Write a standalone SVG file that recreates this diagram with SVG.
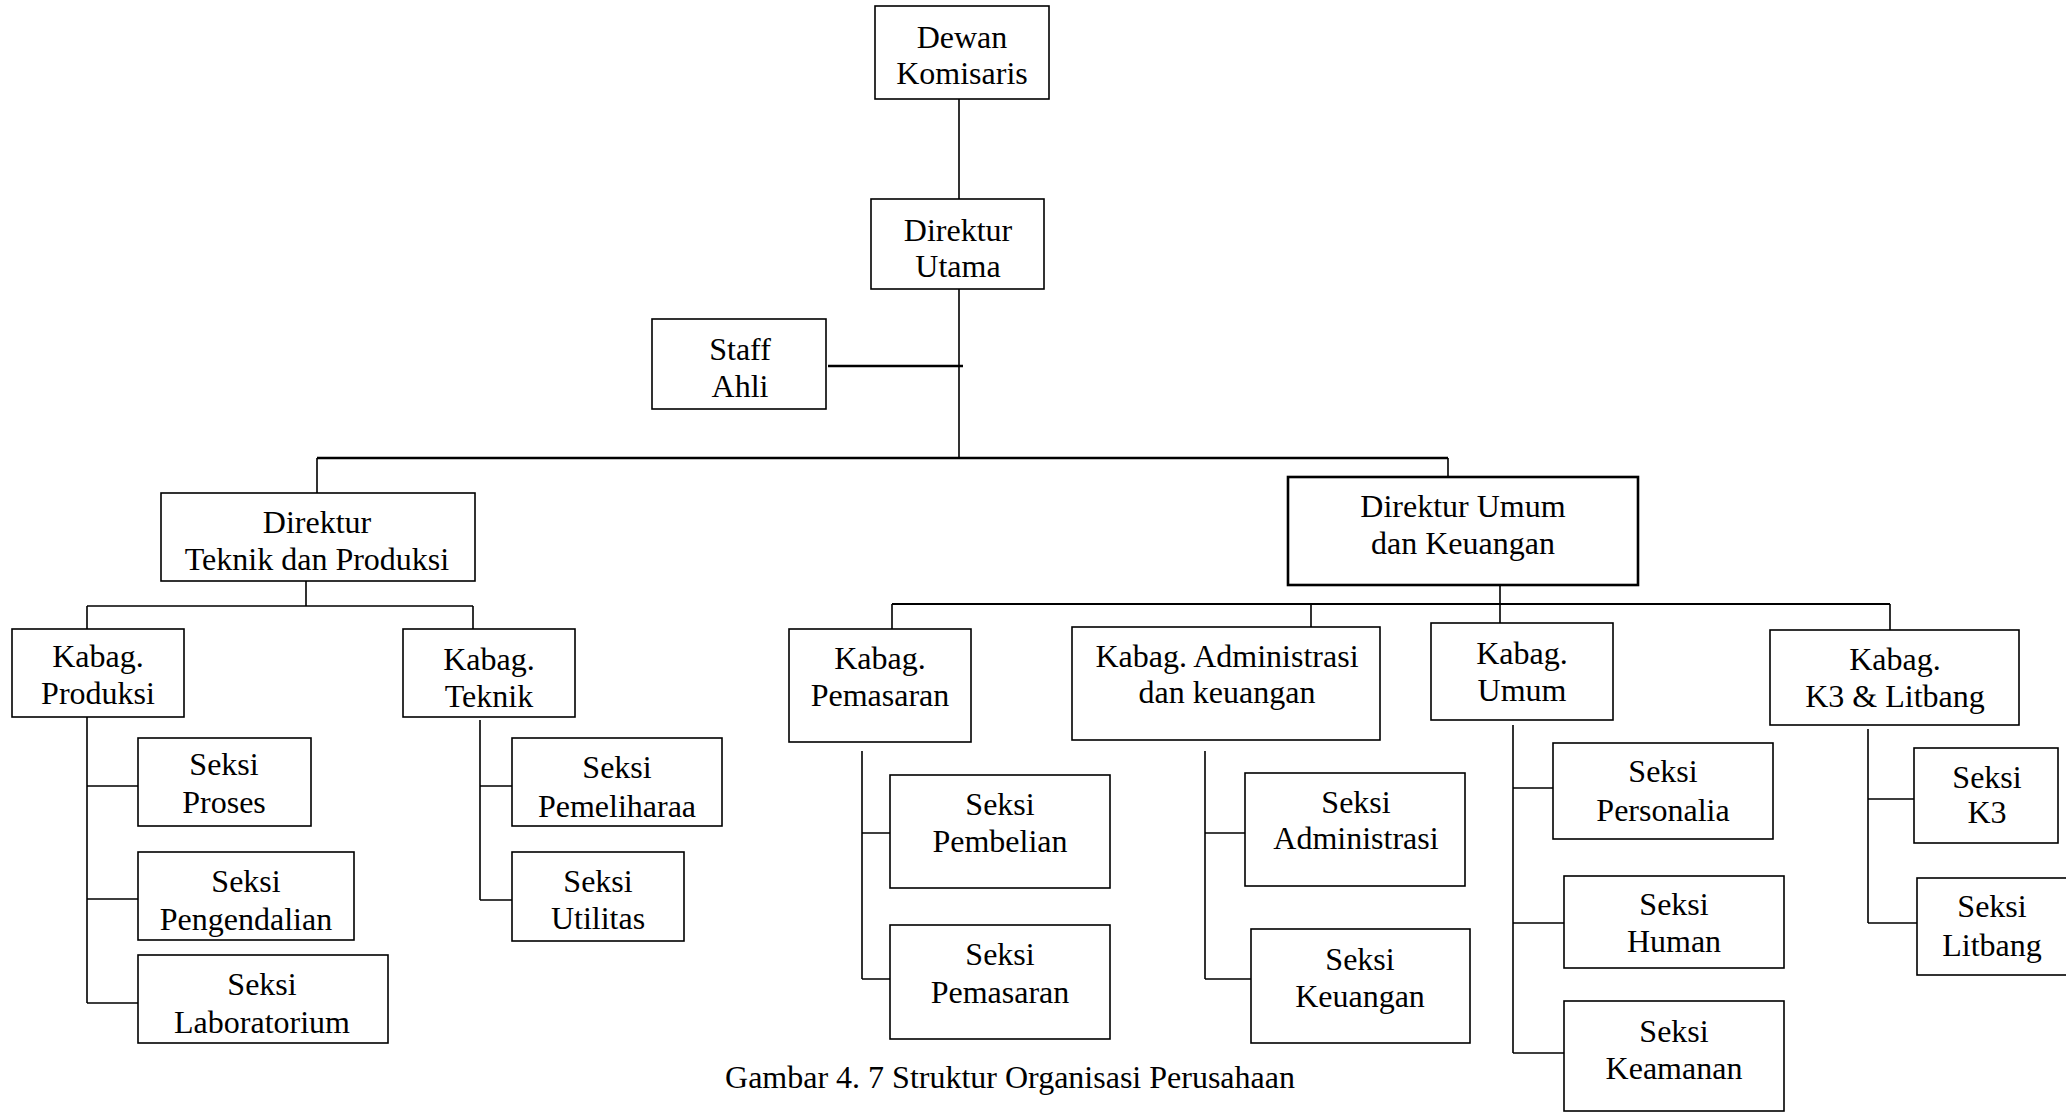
<svg xmlns="http://www.w3.org/2000/svg" width="2066" height="1112" viewBox="0 0 2066 1112">
<style>
.box{fill:#fff;stroke:#000;stroke-width:1.6}
.thick{stroke-width:2.6}
.t{font-family:"Liberation Serif","Times New Roman",serif;font-size:32px;text-anchor:middle;fill:#000}
.c{fill:none;stroke:#000;stroke-width:1.6}
.cb{fill:none;stroke:#000;stroke-width:2.6}
</style>
<rect width="2066" height="1112" fill="#fff"/>
<g id="connectors">
<path class="c" d="M959 99V199M959 289V458"/>
<path class="cb" d="M828 366H963M317 458H1448"/>
<path class="c" d="M317 458V493M1448 458V477"/>
<path class="c" d="M306 581V606M87 606H473M87 606V629M473 606V629"/>
<path class="c" d="M87 717V1003M87 786H138M87 899H138M87 1003H138"/>
<path class="c" d="M480 720V900M480 786H512M480 900H512"/>
<path class="c" d="M1500 585V623M892 604V629M1311 604V627M1890 604V630"/>
<path class="cb" style="stroke-width:2" d="M892 604H1890"/>
<path class="c" d="M862 751V979M862 833H890M862 979H890"/>
<path class="c" d="M1205 751V979M1205 833H1245M1205 979H1251"/>
<path class="c" d="M1513 725V1053M1513 788H1553M1513 923H1564M1513 1053H1564"/>
<path class="c" d="M1868 729V923M1868 799H1914M1868 923H1917"/>
</g>
<g id="dewan-komisaris"><rect class="box" x="875" y="6" width="174" height="93"/><text class="t" x="962" y="48">Dewan</text><text class="t" x="962" y="84">Komisaris</text></g>
<g id="direktur-utama"><rect class="box" x="871" y="199" width="173" height="90"/><text class="t" x="958" y="241">Direktur</text><text class="t" x="958" y="277">Utama</text></g>
<g id="staff-ahli"><rect class="box" x="652" y="319" width="174" height="90"/><text class="t" x="740" y="360">Staff</text><text class="t" x="740" y="397">Ahli</text></g>
<g id="direktur-teknik"><rect class="box" x="161" y="493" width="314" height="88"/><text class="t" x="317" y="533">Direktur</text><text class="t" x="317" y="570">Teknik dan Produksi</text></g>
<g id="direktur-umum"><rect class="box thick" x="1288" y="477" width="350" height="108"/><text class="t" x="1463" y="517">Direktur Umum</text><text class="t" x="1463" y="554">dan Keuangan</text></g>
<g id="kabag-produksi"><rect class="box" x="12" y="629" width="172" height="88"/><text class="t" x="98" y="667">Kabag.</text><text class="t" x="98" y="704">Produksi</text></g>
<g id="kabag-teknik"><rect class="box" x="403" y="629" width="172" height="88"/><text class="t" x="489" y="670">Kabag.</text><text class="t" x="489" y="707">Teknik</text></g>
<g id="seksi-proses"><rect class="box" x="138" y="738" width="173" height="88"/><text class="t" x="224" y="775">Seksi</text><text class="t" x="224" y="813">Proses</text></g>
<g id="seksi-pengendalian"><rect class="box" x="138" y="852" width="216" height="88"/><text class="t" x="246" y="892">Seksi</text><text class="t" x="246" y="930">Pengendalian</text></g>
<g id="seksi-laboratorium"><rect class="box" x="138" y="955" width="250" height="88"/><text class="t" x="262" y="995">Seksi</text><text class="t" x="262" y="1033">Laboratorium</text></g>
<g id="seksi-pemeliharaa"><rect class="box" x="512" y="738" width="210" height="88"/><text class="t" x="617" y="778">Seksi</text><text class="t" x="617" y="817">Pemeliharaa</text></g>
<g id="seksi-utilitas"><rect class="box" x="512" y="852" width="172" height="89"/><text class="t" x="598" y="892">Seksi</text><text class="t" x="598" y="929">Utilitas</text></g>
<g id="kabag-pemasaran"><rect class="box" x="789" y="629" width="182" height="113"/><text class="t" x="880" y="669">Kabag.</text><text class="t" x="880" y="706">Pemasaran</text></g>
<g id="kabag-administrasi"><rect class="box" x="1072" y="627" width="308" height="113"/><text class="t" x="1227" y="667">Kabag. Administrasi</text><text class="t" x="1227" y="703">dan keuangan</text></g>
<g id="kabag-umum"><rect class="box" x="1431" y="623" width="182" height="97"/><text class="t" x="1522" y="664">Kabag.</text><text class="t" x="1522" y="701">Umum</text></g>
<g id="kabag-k3-litbang"><rect class="box" x="1770" y="630" width="249" height="95"/><text class="t" x="1895" y="670">Kabag.</text><text class="t" x="1895" y="707">K3 &amp; Litbang</text></g>
<g id="seksi-pembelian"><rect class="box" x="890" y="775" width="220" height="113"/><text class="t" x="1000" y="815">Seksi</text><text class="t" x="1000" y="852">Pembelian</text></g>
<g id="seksi-pemasaran"><rect class="box" x="890" y="925" width="220" height="114"/><text class="t" x="1000" y="965">Seksi</text><text class="t" x="1000" y="1003">Pemasaran</text></g>
<g id="seksi-administrasi"><rect class="box" x="1245" y="773" width="220" height="113"/><text class="t" x="1356" y="813">Seksi</text><text class="t" x="1356" y="849">Administrasi</text></g>
<g id="seksi-keuangan"><rect class="box" x="1251" y="929" width="219" height="114"/><text class="t" x="1360" y="970">Seksi</text><text class="t" x="1360" y="1007">Keuangan</text></g>
<g id="seksi-personalia"><rect class="box" x="1553" y="743" width="220" height="96"/><text class="t" x="1663" y="782">Seksi</text><text class="t" x="1663" y="821">Personalia</text></g>
<g id="seksi-human"><rect class="box" x="1564" y="876" width="220" height="92"/><text class="t" x="1674" y="915">Seksi</text><text class="t" x="1674" y="952">Human</text></g>
<g id="seksi-keamanan"><rect class="box" x="1564" y="1001" width="220" height="110"/><text class="t" x="1674" y="1042">Seksi</text><text class="t" x="1674" y="1079">Keamanan</text></g>
<g id="seksi-k3"><rect class="box" x="1914" y="748" width="144" height="95"/><text class="t" x="1987" y="788">Seksi</text><text class="t" x="1987" y="823">K3</text></g>
<g id="seksi-litbang"><rect class="box" x="1917" y="878" width="160" height="97"/><text class="t" x="1992" y="917">Seksi</text><text class="t" x="1992" y="956">Litbang</text></g>
<text id="caption" class="t" x="1010" y="1088">Gambar 4. 7 Struktur Organisasi Perusahaan</text>
</svg>
